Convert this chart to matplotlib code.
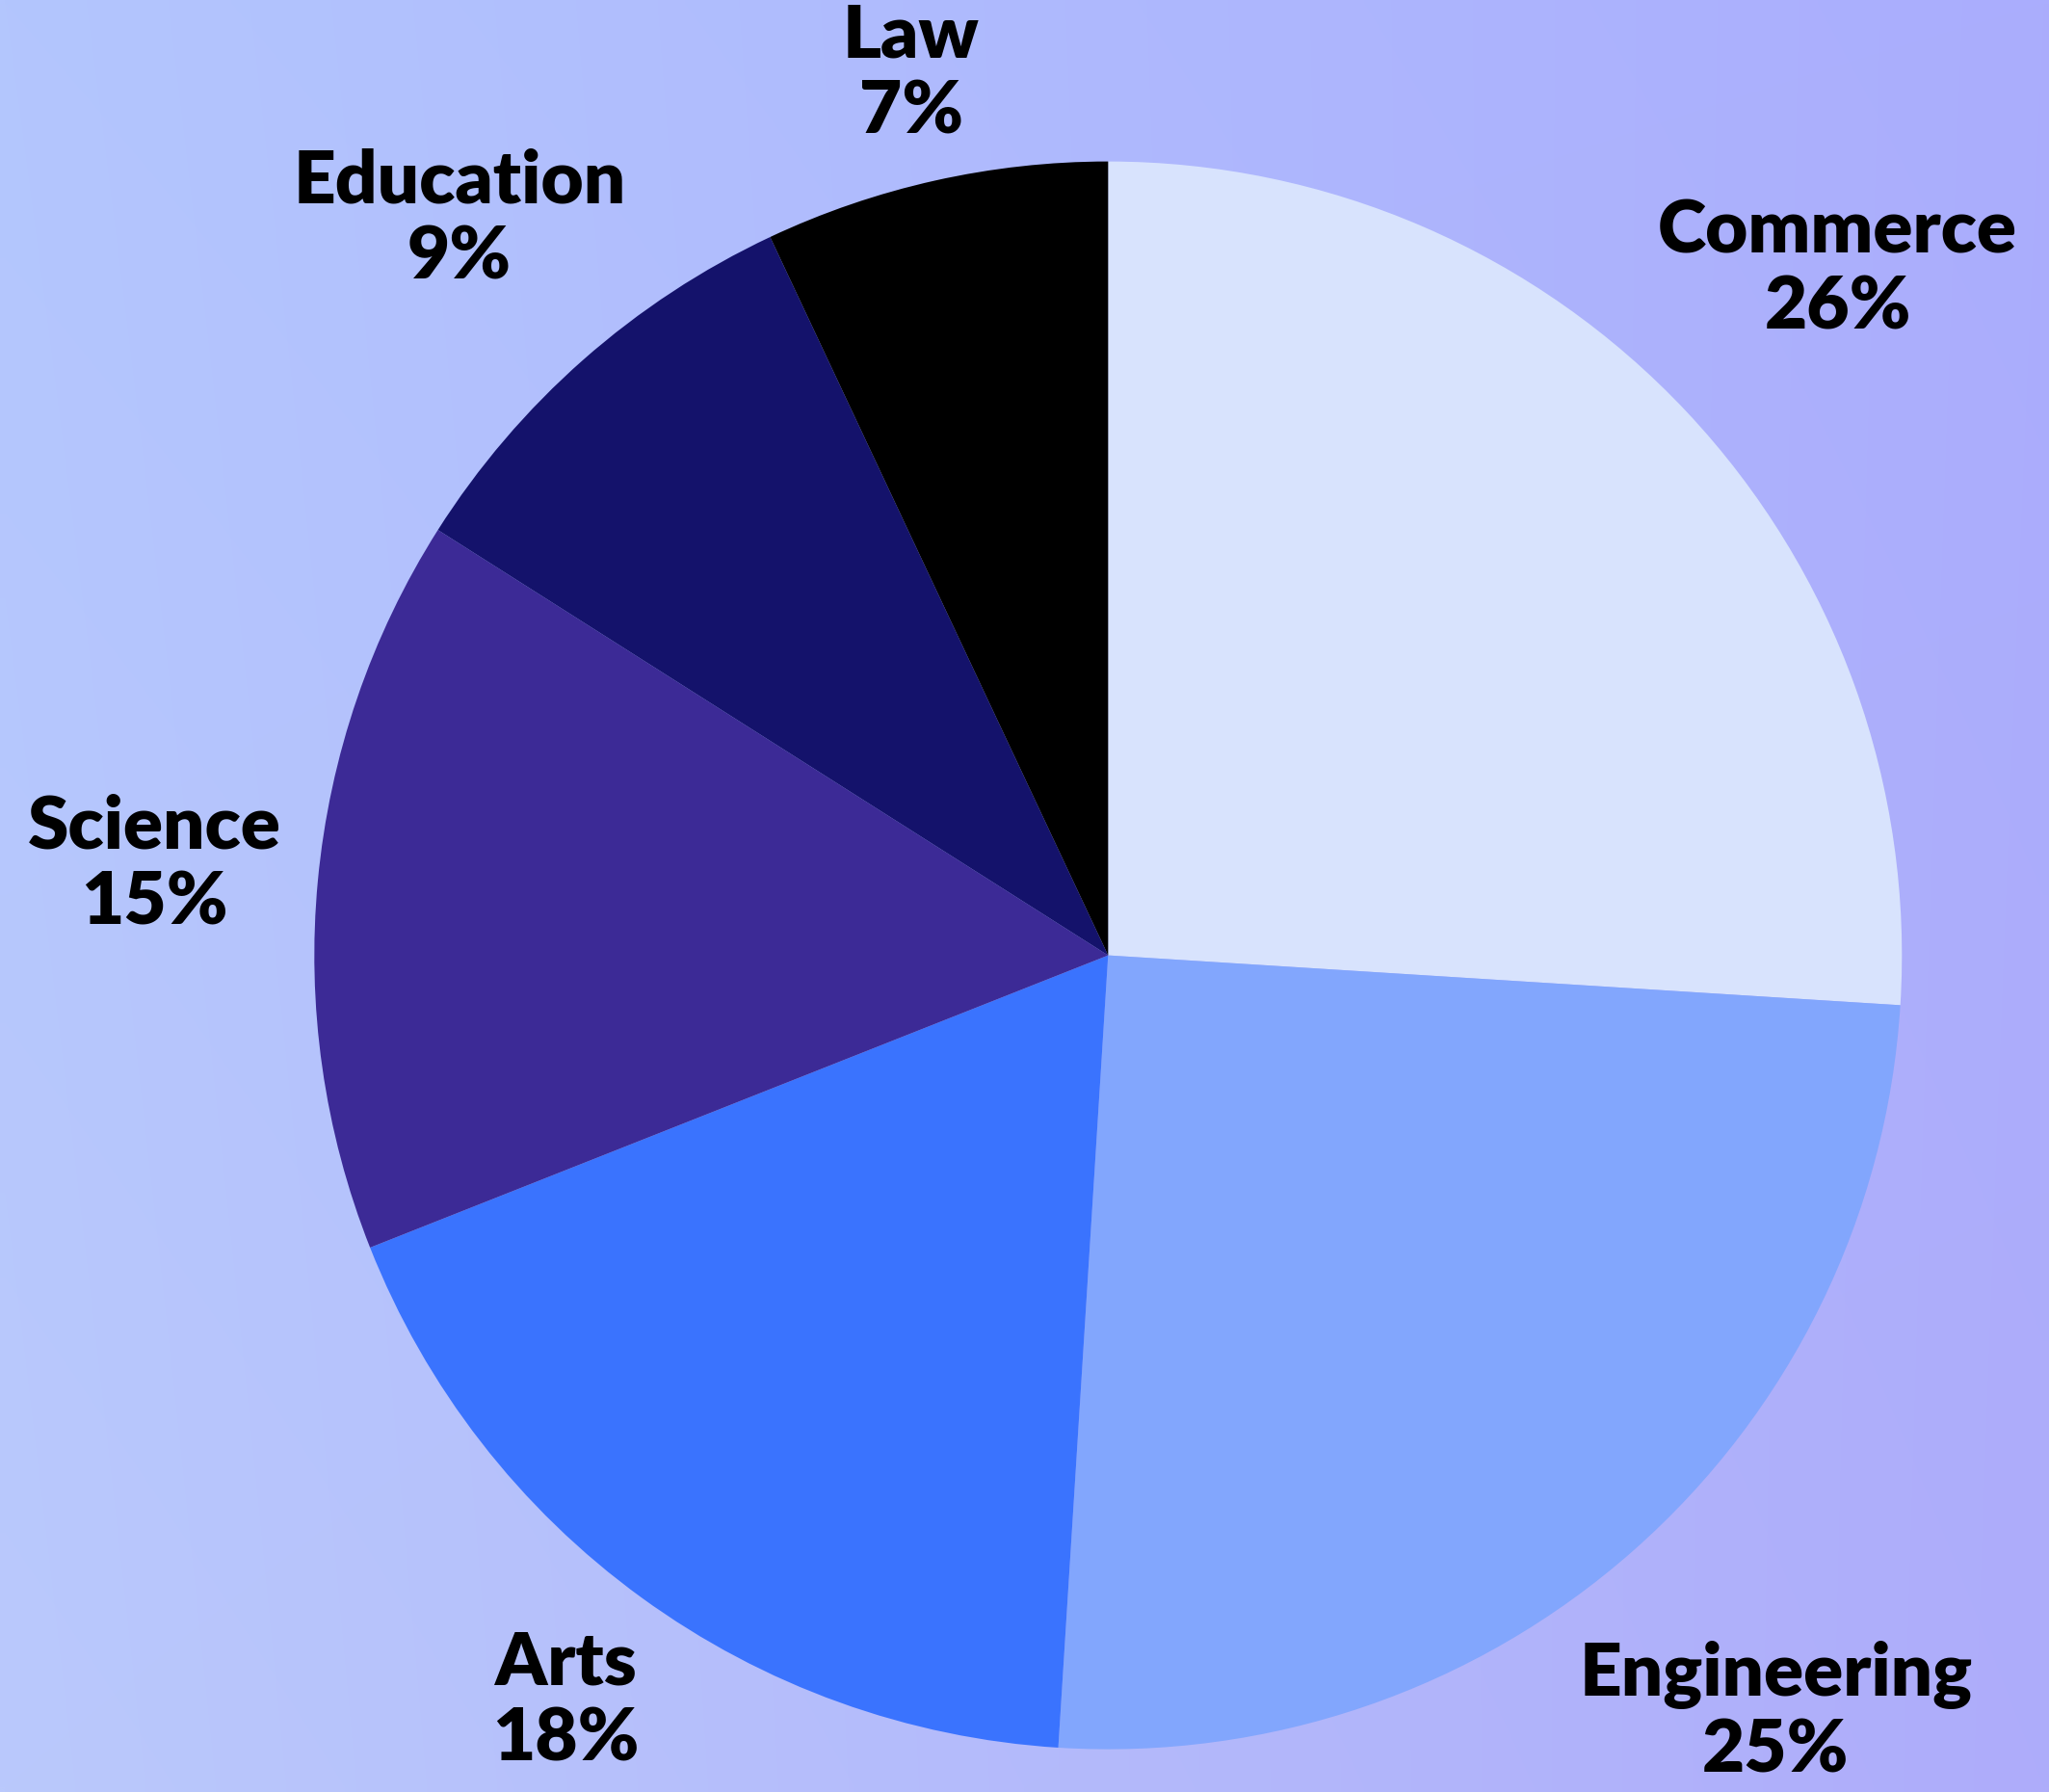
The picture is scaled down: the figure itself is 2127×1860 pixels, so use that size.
import numpy as np
import matplotlib
matplotlib.use("Agg")
import matplotlib.pyplot as plt

categories = ["Commerce", "Engineering", "Arts", "Science", "Education", "Law"]
values = [26, 25, 18, 15, 9, 7]
colors = ["#d8e3fd", "#82a6fd", "#3a73fe", "#3c2a96", "#14126b", "#000000"]
label_dist = [1.261, 1.272, 1.162, 1.207, 1.236, 1.1375]

W, H = 2127, 1860
fig = plt.figure(figsize=(W / 100, H / 100), dpi=100)
ax = fig.add_axes([0, 0, 1, 1])

# background gradient
tl = np.array([179, 198, 254]) / 255
tr = np.array([170, 173, 253]) / 255
bl = np.array([186, 201, 252]) / 255
br = np.array([174, 172, 250]) / 255
xs = np.linspace(0, 1, 200)[None, :, None]
ys = np.linspace(0, 1, 200)[:, None, None]
top = tl * (1 - xs) + tr * xs
bot = bl * (1 - xs) + br * xs
img = top * (1 - ys) + bot * ys
ax.imshow(img, extent=[0, W, 0, H], origin="upper", aspect="auto", zorder=0, interpolation="bilinear")

cx, cy, R = 1150.3, 868.4, 824
wedges, _ = ax.pie(values, colors=colors, startangle=90, counterclock=False,
                   center=(cx, cy), radius=R, frame=True,
                   wedgeprops=dict(linewidth=0))
for w in wedges:
    w.set_zorder(2)

for w, name, v, d in zip(wedges, categories, values, label_dist):
    ang = np.deg2rad((w.theta1 + w.theta2) / 2)
    x = cx + d * R * np.cos(ang)
    y = cy + d * R * np.sin(ang)
    ax.text(x, y, f"{name}\n{v}%", ha="center", va="center", fontsize=55,
            family=["Lato", "DejaVu Sans"], fontweight="heavy", color="black",
            linespacing=1.16, zorder=3)

ax.set_xlim(0, W)
ax.set_ylim(0, H)
ax.set_aspect("auto")
ax.axis("off")
fig.savefig("out.png", dpi=100)
